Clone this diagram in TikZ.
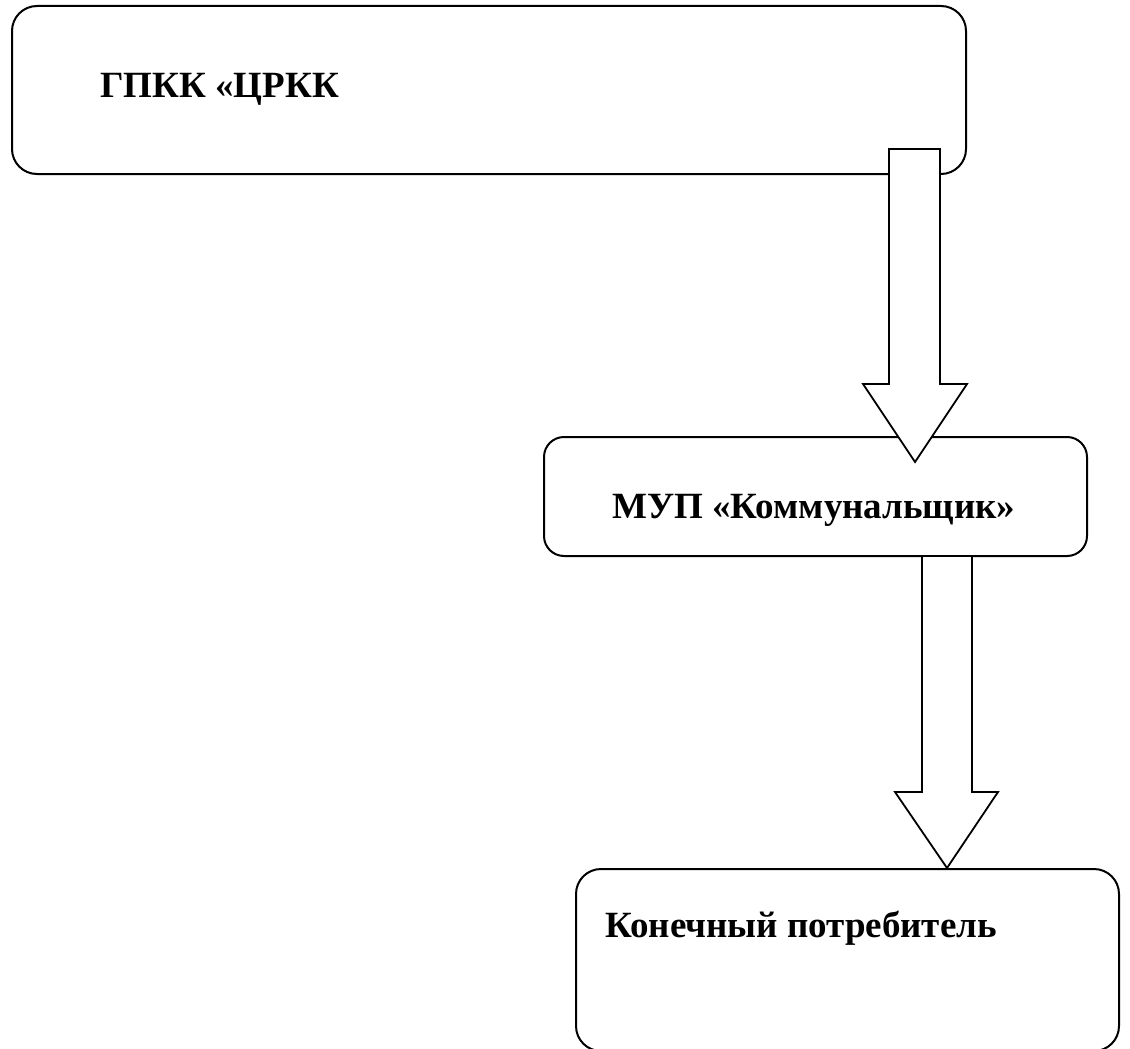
\documentclass[tikz,border=0pt]{standalone}
\usepackage{fontspec}
\setmainfont{Liberation Serif}
\begin{document}
\begin{tikzpicture}[x=1pt,y=-1pt,
  box/.style={draw=black,line width=2pt,rounded corners=#1,inner sep=0pt,outer sep=0pt,fill=white},
  box/.default=24pt,
  blockarrow/.style={draw=black,line width=1.8pt,fill=white,line join=miter},
  lbl/.style={anchor=base west,inner sep=0pt,font=\fontsize{37}{42}\selectfont\bfseries}]
\useasboundingbox (0,0) rectangle (1130,1049);
% boxes
\node[box=25pt,minimum width=954pt,minimum height=168pt] (b1) at (489,90) {};
\node[box=20pt,minimum width=543pt,minimum height=119pt] (b2) at (815.5,496.5) {};
\node[box=25pt,minimum width=543pt,minimum height=182pt] (b3) at (847.5,960) {};
% labels
\node[lbl] (t1) at (100,98) {ГПКК «ЦРКК};
\node[lbl] (t2) at (612,518) {МУП «Коммунальщик»};
\node[lbl] (t3) at (605,937) {Конечный потребитель};
% block arrow 1: from b1 to b2
\coordinate (a1tip) at (915,462);
\draw[blockarrow] (889,149) -- (940,149) -- (940,384) -- (967,384) -- (a1tip)
  -- (863,384) -- (889,384) -- cycle;
% block arrow 2: from b2 to b3
\coordinate (a2tip) at (947,868);
\draw[blockarrow] (922,556) -- (972,556) -- (972,792) -- (998,792) -- (a2tip)
  -- (895,792) -- (922,792) -- cycle;
\end{tikzpicture}
\end{document}
